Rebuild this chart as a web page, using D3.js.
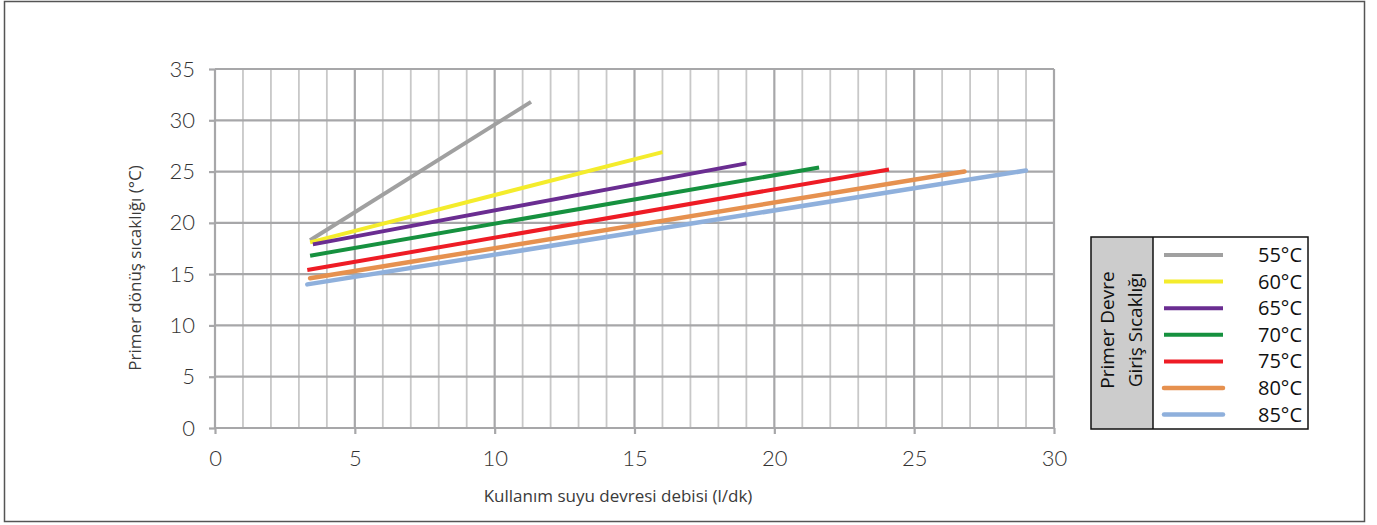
<!DOCTYPE html>
<head>
    <meta charset="utf-8">
    <title>Primer dönüş sıcaklığı</title>
    <style>
        body { margin: 0; background: #fff; }
        .tick text { font-family: Lato, 'DejaVu Sans', sans-serif; font-weight: 300; font-size: 22px; fill: #333; }
        .axis-title { font-family: 'Open Sans', 'Noto Sans', sans-serif; font-size: 17px; fill: #3a3a3a; }
        .legend text { font-family: 'Open Sans', 'Noto Sans', sans-serif; fill: #111; }
    </style>
</head>
<body>

<script src="https://d3js.org/d3.v7.min.js"></script>

<script>

    // primer devre giriş sıcaklıkları
    const labels = ['55°C', '60°C', '65°C', '70°C', '75°C', '80°C', '85°C'];
    // debi (l/dk) at start and end of each line
    const flowStart = [3.4, 3.4, 3.5, 3.4, 3.3, 3.4, 3.3];
    const flowEnd   = [11.3, 16.0, 19.0, 21.6, 24.1, 26.8, 29.0];
    // dönüş sıcaklığı (°C) at start and end
    const retStart  = [18.3, 18.1, 17.9, 16.8, 15.4, 14.6, 14.0];
    const retEnd    = [31.8, 26.9, 25.8, 25.4, 25.2, 25.0, 25.1];

    const colors = ['#a0a0a0', '#f4ec2c', '#6a2d91', '#16913f', '#ee1c25', '#e6914f', '#8fb0dc'];

    const xTicks = d3.range(0, 31, 5);
    const yTicks = d3.range(0, 36, 5);

    const W = 1377, H = 525;
    const plotLeft = 215, plotRight = 1054, plotTop = 69, plotBottom = 428;

    const x = d3.scaleLinear().domain([0, 30]).range([plotLeft, plotRight]);
    const y = d3.scaleLinear().domain([0, 35]).range([plotBottom, plotTop]);

    const svg = d3.select('body').append('svg')
        .attr('width', W)
        .attr('height', H);

    // outer frame
    svg.append('rect')
        .attr('x', 4.5).attr('y', 1.5)
        .attr('width', 1360).attr('height', 520)
        .attr('fill', 'none')
        .attr('stroke', '#555')
        .attr('stroke-width', 1.5);

    // minor vertical grid
    svg.append('g').selectAll('line')
        .data(d3.range(0, 31).filter(d => d % 5 !== 0))
        .enter().append('line')
        .attr('x1', d => x(d)).attr('x2', d => x(d))
        .attr('y1', y(35)).attr('y2', y(0))
        .attr('stroke', '#c8c8c8')
        .attr('stroke-width', 1.8);

    // major grid
    svg.append('g').selectAll('line')
        .data(xTicks)
        .enter().append('line')
        .attr('x1', d => x(d)).attr('x2', d => x(d))
        .attr('y1', y(35)).attr('y2', y(0))
        .attr('stroke', '#a7a7a9')
        .attr('stroke-width', 2.2);

    svg.append('g').selectAll('line')
        .data(yTicks)
        .enter().append('line')
        .attr('x1', x(0)).attr('x2', x(30))
        .attr('y1', d => y(d)).attr('y2', d => y(d))
        .attr('stroke', '#a7a7a9')
        .attr('stroke-width', 2.2);

    const xAxis = d3.axisBottom(x).tickValues(xTicks).tickSize(6).tickSizeOuter(0).tickPadding(16);
    const yAxis = d3.axisLeft(y).tickValues(yTicks).tickSize(6).tickSizeOuter(0).tickPadding(14);

    const gx = svg.append('g')
        .attr('transform', 'translate(0,' + plotBottom + ')')
        .call(xAxis);
    const gy = svg.append('g')
        .attr('transform', 'translate(' + plotLeft + ',0)')
        .call(yAxis);

    [gx, gy].forEach(g => {
        g.select('.domain').remove();
        g.selectAll('.tick line').attr('stroke', '#a7a7a9').attr('stroke-width', 2.2);
    });

    // series lines
    svg.append('g').selectAll('line')
        .data(labels)
        .enter().append('line')
        .attr('x1', (d, i) => x(flowStart[i]))
        .attr('y1', (d, i) => y(retStart[i]))
        .attr('x2', (d, i) => x(flowEnd[i]))
        .attr('y2', (d, i) => y(retEnd[i]))
        .attr('stroke', (d, i) => colors[i])
        .attr('stroke-width', (d, i) => i >= 5 ? 4.5 : 4)
        .attr('stroke-linecap', (d, i) => i >= 5 ? 'round' : 'butt');

    // axis titles
    svg.append('text')
        .attr('class', 'axis-title')
        .attr('transform', 'translate(141,268) rotate(-90)')
        .attr('text-anchor', 'middle')
        .text('Primer dönüş sıcaklığı (°C)');

    svg.append('text')
        .attr('class', 'axis-title')
        .attr('x', 618).attr('y', 502)
        .attr('text-anchor', 'middle')
        .text('Kullanım suyu devresi debisi (l/dk)');

    // legend
    const legend = svg.append('g').attr('class', 'legend');
    const lx = 1091, ly = 237, lw = 217, lh = 192, split = 62;

    legend.append('rect')
        .attr('x', lx).attr('y', ly)
        .attr('width', split).attr('height', lh)
        .attr('fill', '#cccccc');
    legend.append('rect')
        .attr('x', lx).attr('y', ly)
        .attr('width', lw).attr('height', lh)
        .attr('fill', 'none')
        .attr('stroke', '#111')
        .attr('stroke-width', 1.5);
    legend.append('line')
        .attr('x1', lx + split).attr('x2', lx + split)
        .attr('y1', ly).attr('y2', ly + lh)
        .attr('stroke', '#111')
        .attr('stroke-width', 1.5);

    const title = legend.append('text')
        .attr('transform', 'translate(' + (lx + 16) + ',' + (ly + 93) + ') rotate(-90)')
        .attr('text-anchor', 'middle')
        .style('font-size', '19px');
    title.append('tspan').attr('x', 0).attr('dy', '0.35em').text('Primer Devre');
    title.append('tspan').attr('x', 0).attr('dy', '1.5em').text('Giriş Sıcaklığı');

    const row = legend.selectAll('.row')
        .data(labels)
        .enter().append('g')
        .attr('class', 'row')
        .attr('transform', (d, i) => 'translate(0,' + (255 + i * 26.6) + ')');

    row.append('line')
        .attr('x1', 1164).attr('x2', 1223)
        .attr('stroke', (d, i) => colors[i])
        .attr('stroke-width', (d, i) => i >= 5 ? 4.5 : 4)
        .attr('stroke-linecap', (d, i) => i >= 5 ? 'round' : 'butt');

    row.append('text')
        .attr('x', 1302)
        .attr('dy', '0.35em')
        .attr('text-anchor', 'end')
        .style('font-size', '20px')
        .text(d => d);

</script>

</body>
